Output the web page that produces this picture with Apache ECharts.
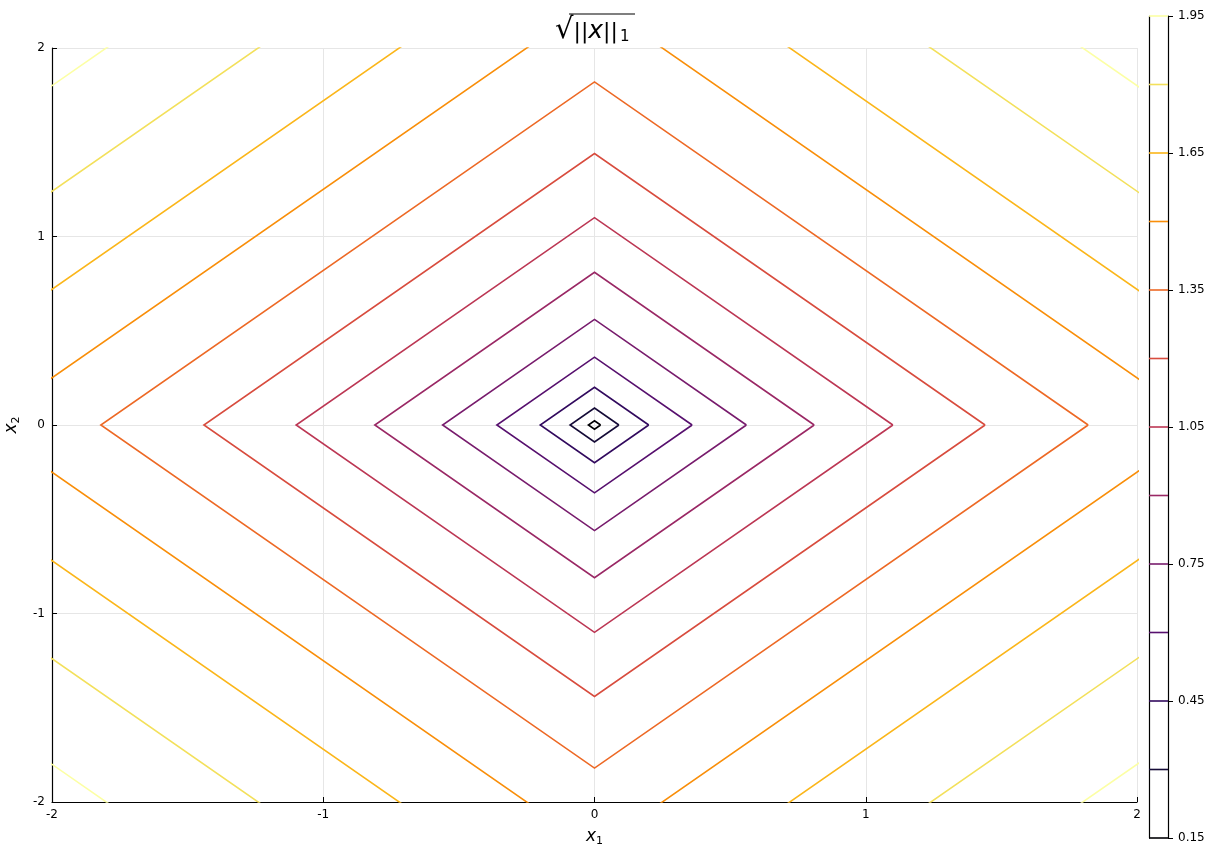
<!DOCTYPE html>
<html>
<head>
<meta charset="utf-8">
<script src="https://cdn.jsdelivr.net/npm/echarts@6/dist/echarts.min.js"></script>
<style>
  html, body { margin: 0; padding: 0; background: #fff; }
  #chart { width: 1221px; height: 850px; }
</style>
</head>
<body>
<div id="chart"></div>
<script>
// Contour levels of sqrt(||x||_1) and their colours (inferno ramp)
const levels = [0.15, 0.30, 0.45, 0.60, 0.75, 0.90, 1.05, 1.20, 1.35, 1.50, 1.65, 1.80, 1.95];
// Half-diagonal of each diamond-shaped contour, |x1| + |x2| = r
const radii = [0.0225, 0.09, 0.20, 0.36, 0.56, 0.81, 1.10, 1.44, 1.82, 2.25, 2.72, 3.24, 3.80];
const levelColors = ['#000004', '#150b37', '#320a5e', '#57106e', '#781c6d', '#9a2865',
                     '#bc3754', '#d84c3e', '#ed6925', '#f98e09', '#fbb61a', '#f3e05b', '#fcffa4'];
const axisTicks = [-2, -1, 0, 1, 2];
const colorbarTicks = [0.15, 0.45, 0.75, 1.05, 1.35, 1.65, 1.95];

const FONT = 'DejaVu Sans';
const chart = echarts.init(document.getElementById('chart'), null, { renderer: 'canvas' });

function diamond(r) {
  return [[r, 0], [0, r], [-r, 0], [0, -r], [r, 0]];
}

const contourSeries = radii.map((r, i) => ({
  type: 'line',
  xAxisIndex: 0,
  yAxisIndex: 0,
  data: diamond(r),
  showSymbol: false,
  symbol: 'none',
  clip: true,
  silent: true,
  lineStyle: { color: levelColors[i], width: 1.6, join: 'miter' },
  z: 3
}));

const colorbarSeries = levels.map((L, i) => ({
  type: 'line',
  xAxisIndex: 1,
  yAxisIndex: 1,
  data: [[0, L], [1, L]],
  showSymbol: false,
  symbol: 'none',
  clip: false,
  silent: true,
  lineStyle: { color: levelColors[i], width: 1.6 },
  z: 3
}));

const axisLabelStyle = { color: '#000', fontFamily: FONT, fontSize: 12 };
const gridLine = { show: true, lineStyle: { color: '#e6e6e6', width: 1 } };
const nameRich = {
  i: { fontFamily: FONT, fontStyle: 'italic', fontSize: 17, color: '#000' },
  s: { fontFamily: FONT, fontSize: 11, color: '#000', padding: [10, 0, 0, 0] }
};

const option = {
  animation: false,
  backgroundColor: '#fff',
  grid: [
    { left: 52, right: 84, top: 48, bottom: 48, containLabel: false, outerBoundsMode: 'none' },
    { left: 1149, width: 19, top: 16, bottom: 12, containLabel: false, outerBoundsMode: 'none' }
  ],
  xAxis: [
    {
      type: 'value', gridIndex: 0, min: -2, max: 2, interval: 1,
      axisLine: { show: true, onZero: false, lineStyle: { color: '#000', width: 1.2 } },
      axisTick: { show: true, inside: true, length: 5, lineStyle: { color: '#000' } },
      axisLabel: Object.assign({ margin: 7, formatter: v => String(v) }, axisLabelStyle),
      splitLine: gridLine,
      name: '{i|x}{s|1}',
      nameLocation: 'middle',
      nameGap: 24,
      nameTextStyle: { rich: nameRich }
    },
    {
      type: 'value', gridIndex: 1, min: 0, max: 1, show: false
    }
  ],
  yAxis: [
    {
      type: 'value', gridIndex: 0, min: -2, max: 2, interval: 1,
      axisLine: { show: true, onZero: false, lineStyle: { color: '#000', width: 1.2 } },
      axisTick: { show: true, inside: true, length: 5, lineStyle: { color: '#000' } },
      axisLabel: Object.assign({ margin: 7, formatter: v => String(v) }, axisLabelStyle),
      splitLine: gridLine,
      name: '{i|x}{s|2}',
      nameLocation: 'middle',
      nameGap: 25,
      nameRotate: 90,
      nameTextStyle: { rich: nameRich }
    },
    {
      type: 'value', gridIndex: 1, min: 0.15, max: 1.95, interval: 0.3,
      position: 'right',
      axisLine: { show: true, onZero: false, lineStyle: { color: '#000', width: 1.2 } },
      axisTick: { show: true, inside: false, length: 5, lineStyle: { color: '#000' } },
      axisLabel: Object.assign({ margin: 10, formatter: v => v.toFixed(2) }, axisLabelStyle),
      splitLine: { show: false }
    },
    {
      type: 'value', gridIndex: 1, min: 0.15, max: 1.95,
      position: 'left',
      axisLine: { show: true, onZero: false, lineStyle: { color: '#000', width: 1.2 } },
      axisTick: { show: false },
      axisLabel: { show: false },
      splitLine: { show: false }
    }
  ],
  graphic: [
    {
      type: 'text',
      left: 555,
      top: 16,
      style: {
        text: '{r|√}{n|||}{i|x}{n|||}{s|1}',
        rich: {
          r: { fontFamily: FONT, fontSize: 29, fill: '#000' },
          n: { fontFamily: FONT, fontSize: 22, fill: '#000', padding: [3, 0, 0, 0] },
          i: { fontFamily: FONT, fontSize: 25, fontStyle: 'italic', fill: '#000', padding: [2, 0, 0, 0] },
          s: { fontFamily: FONT, fontSize: 15, fill: '#000', padding: [14, 0, 0, 2] }
        }
      }
    },
    {
      type: 'line',
      shape: { x1: 569, y1: 14, x2: 635, y2: 14 },
      style: { stroke: '#000', lineWidth: 1.2 }
    }
  ],
  series: contourSeries.concat(colorbarSeries)
};

chart.setOption(option);
</script>
</body>
</html>
